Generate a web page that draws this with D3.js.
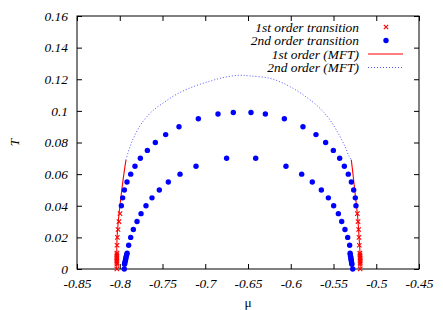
<!DOCTYPE html>
<html>
<head>
<meta charset="utf-8">
<script src="https://cdn.jsdelivr.net/npm/d3@7"></script>
</head>
<body style="margin:0">
<svg id="chart" width="443" height="310"></svg>
<script>
// tick values
var xTicks = [-0.85, -0.8, -0.75, -0.7, -0.65, -0.6, -0.55, -0.5, -0.45];
var yTicks = [0, 0.02, 0.04, 0.06, 0.08, 0.1, 0.12, 0.14, 0.16];

// 1st order transition (crosses)
var firstT = [0, 0.003, 0.004, 0.005, 0.006, 0.007, 0.008, 0.009, 0.01, 0.015, 0.02, 0.025, 0.03, 0.035];
var firstMuLeft = [-0.8034, -0.8034, -0.8034, -0.8034, -0.8034, -0.8034, -0.8034, -0.8034, -0.8033, -0.8032, -0.8028, -0.802, -0.8009, -0.7997];
var firstMuRight = [-0.5188, -0.5188, -0.5188, -0.5188, -0.5188, -0.5188, -0.5189, -0.5190, -0.5192, -0.5198, -0.5202, -0.5206, -0.5213, -0.5221];

// 2nd order transition, lower branch (dots)
var lowT = [0, 0.003, 0.004, 0.005, 0.006, 0.007, 0.008, 0.009, 0.01, 0.015, 0.02, 0.025, 0.03, 0.035, 0.04, 0.045, 0.05, 0.055, 0.06, 0.065, 0.07,
            0.07, 0.065, 0.06, 0.055, 0.05, 0.045, 0.04, 0.035, 0.03, 0.025, 0.02, 0.015, 0.01, 0.009, 0.008, 0.007, 0.006, 0.005, 0.004, 0.003, 0];
var lowMu = [-0.7947, -0.7944, -0.7940, -0.7936, -0.7932, -0.7928, -0.7924, -0.7919, -0.7914, -0.7896, -0.7872, -0.7841, -0.7798, -0.7751, -0.7693, -0.7623, -0.7537, -0.7432, -0.7295, -0.7108, -0.6750,
             -0.6410, -0.6056, -0.5872, -0.5748, -0.5642, -0.5560, -0.5498, -0.5443, -0.5404, -0.5366, -0.5334, -0.5311, -0.5306, -0.5303, -0.5300, -0.5297, -0.5294, -0.5291, -0.5288, -0.5285, -0.5275];

// 2nd order transition, upper branch (dots)
var highT = [0.04, 0.045, 0.05, 0.055, 0.06, 0.065, 0.07, 0.075, 0.08, 0.085, 0.09, 0.095, 0.098, 0.099,
             0.099, 0.098, 0.095, 0.09, 0.085, 0.08, 0.075, 0.07, 0.065, 0.06, 0.055, 0.05, 0.045, 0.04];
var highMu = [-0.7981, -0.7966, -0.7946, -0.7915, -0.7872, -0.7822, -0.7759, -0.7677, -0.7584, -0.7463, -0.7307, -0.7081, -0.6851, -0.6672,
              -0.6465, -0.6297, -0.6075, -0.5857, -0.5705, -0.5592, -0.5502, -0.5428, -0.5373, -0.5327, -0.5291, -0.5264, -0.5245, -0.5237];

// 1st order (MFT) lines
var mftFirstLeftMu = [-0.8036, -0.8035, -0.8031, -0.8017, -0.7998, -0.7976, -0.7952, -0.7927];
var mftFirstLeftT  = [0, 0.01, 0.02, 0.03, 0.04, 0.05, 0.06, 0.069];
var mftFirstRightMu = [-0.5188, -0.5190, -0.5201, -0.5213, -0.5231, -0.5252, -0.5272, -0.5292];
var mftFirstRightT  = [0, 0.01, 0.02, 0.03, 0.04, 0.05, 0.06, 0.069];

// 2nd order (MFT) line
var mftSecondMu = [-0.7927, -0.7880, -0.7822, -0.7743, -0.7626, -0.7471, -0.7315, -0.7120, -0.6925, -0.6769, -0.6600, -0.6477, -0.6243, -0.6047, -0.5853, -0.5658, -0.5541, -0.5444, -0.5365, -0.5320, -0.5292];
var mftSecondT  = [0.069, 0.0774, 0.0848, 0.0922, 0.0995, 0.1058, 0.1111, 0.1157, 0.1191, 0.1213, 0.1225, 0.1221, 0.1206, 0.1164, 0.1101, 0.1016, 0.0942, 0.0858, 0.0774, 0.0715, 0.069];

var legendLabels = ["1st order transition", "2nd order transition", "1st order (MFT)", "2nd order (MFT)"];

var width = 443, height = 310;
var margin = { top: 16, right: 24, bottom: 41, left: 77 };
var fontSize = 13.4;

var svg = d3.select("#chart");

var x = d3.scaleLinear().domain([-0.85, -0.45]).range([margin.left, width - margin.right]);
var y = d3.scaleLinear().domain([0, 0.16]).range([height - margin.bottom, margin.top]);

function pairs(mu, t) {
    return mu.map(function(m, i) { return [m, t[i]]; });
}

function label(sel, italic) {
    return sel
        .style("font-family", "'Times New Roman'")
        .style("font-style", italic ? "italic" : "normal")
        .attr("font-size", fontSize)
        .attr("fill", "#000");
}

// axes, ticks inward on all sides
var tickLen = 5;
svg.append("g").attr("transform", "translate(0," + y(0) + ")")
    .call(d3.axisBottom(x).tickValues(xTicks).tickSizeInner(-tickLen).tickSizeOuter(0).tickPadding(9)
        .tickFormat(function(d) { return String(d); }));
svg.append("g").attr("transform", "translate(0," + y(0.16) + ")")
    .call(d3.axisTop(x).tickValues(xTicks).tickSizeInner(-tickLen).tickSizeOuter(0).tickFormat(""));
svg.append("g").attr("transform", "translate(" + x(-0.85) + ",0)")
    .call(d3.axisLeft(y).tickValues(yTicks).tickSizeInner(-tickLen).tickSizeOuter(0).tickPadding(9)
        .tickFormat(function(d) { return String(d); }));
svg.append("g").attr("transform", "translate(" + x(-0.45) + ",0)")
    .call(d3.axisRight(y).tickValues(yTicks).tickSizeInner(-tickLen).tickSizeOuter(0).tickFormat(""));

svg.selectAll(".domain").remove();
svg.selectAll("g").attr("font-family", null).attr("font-size", null);
svg.selectAll(".tick line").attr("stroke", "#000");
label(svg.selectAll(".tick text"), true);

svg.append("rect")
    .attr("x", x(-0.85)).attr("y", y(0.16))
    .attr("width", x(-0.45) - x(-0.85)).attr("height", y(0) - y(0.16))
    .attr("fill", "none").attr("stroke", "#000").attr("stroke-width", 1);

// axis titles
label(svg.append("text"), true)
    .attr("transform", "translate(19," + ((y(0) + y(0.16)) / 2) + ") rotate(-90)")
    .attr("text-anchor", "middle")
    .text("T");
label(svg.append("text"), false)
    .attr("x", (x(-0.85) + x(-0.45)) / 2)
    .attr("y", 307)
    .attr("text-anchor", "middle")
    .text("μ");

var smooth = d3.line()
    .x(function(d) { return x(d[0]); })
    .y(function(d) { return y(d[1]); })
    .curve(d3.curveCatmullRom);

// MFT curves
svg.append("path").datum(pairs(mftSecondMu, mftSecondT))
    .attr("d", smooth).attr("fill", "none")
    .attr("stroke", "#5555ff").attr("stroke-width", 1).attr("stroke-dasharray", "1,2");
[pairs(mftFirstLeftMu, mftFirstLeftT), pairs(mftFirstRightMu, mftFirstRightT)].forEach(function(d) {
    svg.append("path").datum(d)
        .attr("d", smooth).attr("fill", "none")
        .attr("stroke", "#ff0000").attr("stroke-width", 1.1);
});

// 2nd order dots
var dots = pairs(lowMu, lowT).concat(pairs(highMu, highT));
svg.append("g").selectAll("circle").data(dots).enter().append("circle")
    .attr("cx", function(d) { return x(d[0]); })
    .attr("cy", function(d) { return y(d[1]); })
    .attr("r", 2.7)
    .attr("fill", "#0000ff");

// 1st order crosses
var cross = "M-2.2,-2.2L2.2,2.2M-2.2,2.2L2.2,-2.2";
var crosses = pairs(firstMuLeft, firstT).concat(pairs(firstMuRight, firstT));
svg.append("g").selectAll("path").data(crosses).enter().append("path")
    .attr("transform", function(d) { return "translate(" + x(d[0]) + "," + y(d[1]) + ")"; })
    .attr("d", cross)
    .attr("stroke", "#ff0000").attr("stroke-width", 1.1).attr("fill", "none");

// legend
var legend = svg.append("g");
var rowY = [27, 40.5, 54, 67.5];
legendLabels.forEach(function(text, i) {
    label(legend.append("text"), true)
        .attr("x", 359).attr("y", rowY[i] + 4.5)
        .attr("text-anchor", "end")
        .text(text);
});
legend.append("path")
    .attr("transform", "translate(386," + rowY[0] + ")")
    .attr("d", cross).attr("stroke", "#ff0000").attr("stroke-width", 1.1);
legend.append("circle").attr("cx", 386).attr("cy", rowY[1]).attr("r", 2.7).attr("fill", "#0000ff");
legend.append("line").attr("x1", 368).attr("x2", 403).attr("y1", rowY[2]).attr("y2", rowY[2])
    .attr("stroke", "#ff0000").attr("stroke-width", 1.1);
legend.append("line").attr("x1", 368).attr("x2", 403).attr("y1", rowY[3]).attr("y2", rowY[3])
    .attr("stroke", "#5555ff").attr("stroke-width", 1).attr("stroke-dasharray", "1,2");
</script>
</body>
</html>
